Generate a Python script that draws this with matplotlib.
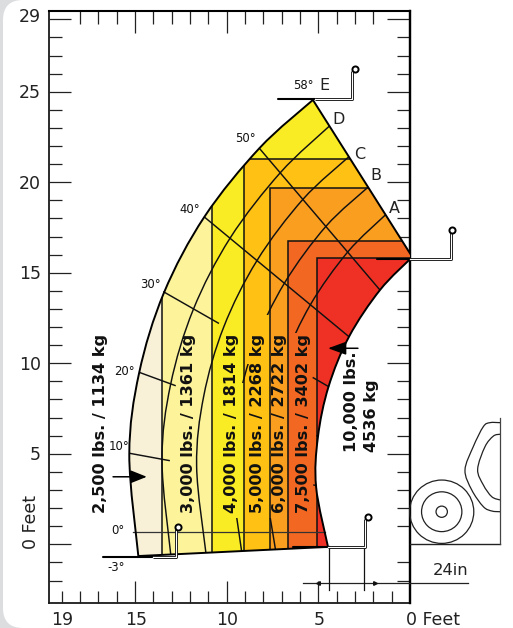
import numpy as np
import matplotlib
matplotlib.use("Agg")
import matplotlib.pyplot as plt
from matplotlib import font_manager as fm
from matplotlib.path import Path
from matplotlib.patches import PathPatch, Ellipse, FancyBboxPatch, Rectangle
from matplotlib.transforms import IdentityTransform

FIG_W, FIG_H, DPI = 513, 628, 100

# ---------- data, feet ----------
pivot = (-9.70, 0.55)                         # boom pivot implied by the angle lines
boom_angles = [-2.8, 10, 20, 30, 40, 50, 58]  # degrees
r_outer = [24.55, 25.40, 26.05, 26.70, 27.30, 27.86, 28.30]
r_d = [22.78, 23.59, 24.22, 24.85, 25.47, 26.09, 26.60]
r_c = [20.86, 21.67, 22.30, 22.93, 23.55, 24.17, 24.60]
r_b = [18.91, 19.72, 20.35, 20.98, 21.60, 22.22, 22.62]
r_a = [17.06, 17.87, 18.50, 19.13, 19.75, 20.37, 20.82]
r_inner = [14.19, 15.05, 15.67, 16.33, 17.00, 17.63, 18.07]
arc_b_visible = [(12.67, 26), (8.90, 9.95), (-1, 1.45)]   # the arcs stop around the labels
arc_a_visible = [(11.66, 26), (-1, 1.45)]

zone_names = ["3,000 lbs. / 1361 kg", "4,000 lbs. / 1814 kg", "5,000 lbs. / 2268 kg",
              "6,000 lbs. / 2722 kg", "7,500 lbs. / 3402 kg"]
zone_label_x = [12.06, 9.75, 8.34, 7.14, 5.83]
zone_reach = [13.51, 10.80, 9.04, 7.66, 6.64, 5.09]
zone_top = [30.0, 30.0, 21.30, 19.67, 16.74, 15.80]
zone_colors = ["#FCF39A", "#FAEC24", "#FFC114", "#FA9E20", "#F26722", "#EF3125"]
base_color = "#F8F1D8"

angle_labels = ["50°", "40°", "30°", "20°", "10°", "0°", "-3°"]
angle_label_x = [9.00, 12.00, 14.16, 15.60, 15.86, 15.95, 16.04]
angle_label_y = [22.40, 18.47, 14.38, 9.54, 5.39, 0.74, -1.26]
spokes = [([15.31, 13.10], [5.03, 4.62]),
          ([14.77, 12.78], [9.50, 8.76]),
          ([13.46, 10.42], [13.96, 12.20]),
          ([5.31, 4.42], [9.22, 8.70]),
          ([5.28, 5.10], [3.28, 3.25]),
          ([5.12, 5.00], [6.00, 5.98]),
          ([11.24, 3.33], [18.10, 11.47]),
          ([8.22, 1.64], [21.88, 14.05])]
zero_line_x = [15.09, 4.65]
zero_line_y = [0.70, 0.70]

letters = ["D", "C", "B", "A", "E"]
letter_x = [3.89, 2.73, 1.85, 0.87, 4.69]
letter_y = [23.48, 21.55, 20.38, 18.55, 25.34]
top_label = "58°"
top_label_xy = (5.84, 25.34)

left_major = [29, 25, 20, 15, 10, 5, 0]
left_minor = [v for v in range(-2, 29) if v not in left_major]
right_major = [29, 25, 20, 10, 5]
right_minor = [v for v in range(-2, 29) if v not in right_major and v not in (15, 0)]
top_major = [15, 10, 5]
top_minor = [v for v in range(2, 19) if v not in top_major]
bottom_major = [15, 10, 5]
bottom_minor = [v for v in range(1, 20) if v not in bottom_major]
ylabels = ["29", "25", "20", "15", "10", "5"]
ylabel_vals = [29, 25, 20, 15, 10, 5]
xlabels = ["19", "15", "10", "5"]
xlabel_vals = [19, 15, 10, 5]

# leaders: tapered start, where the double line opens, elbow, ring
leader_start_x = [7.22, 1.81, 16.77, 6.37]
leader_y = [24.58, 15.75, -0.68, -0.17]
leader_open_x = [5.18, 0.00, 14.00, 4.47]
leader_elbow_x = [3.16, -2.21, 12.77, 2.43]
leader_ring_x = [3.00, -2.29, 12.66, 2.29]
leader_ring_y = [26.27, 17.35, 0.95, 1.50]

dim_label = "24in"
dim_x = [5.82, -3.18]
dim_y = [-2.12, -2.12]
dim_ticks_x = [4.44, 2.49]
dim_ticks_top = [-0.10, -0.16]
dim_ticks_bottom = [-2.52, -2.52]

wheel_center = (-1.73, 1.80)
wheel_radii = [1.75, 1.10, 0.31]
cab_outer_x = [-4.91, -4.36, -4.00, -3.45, -3.00, -3.37, -4.00, -4.46, -4.91]
cab_outer_y = [6.72, 6.72, 6.50, 5.39, 4.10, 3.00, 2.08, 1.84, 1.80]
cab_inner_x = [-4.91, -4.55, -4.09, -3.69, -4.00, -4.46, -4.91]
cab_inner_y = [6.08, 5.98, 5.39, 4.14, 3.28, 2.63, 2.45]
ground_x = [0.0, -4.91]
ground_y = [0.0, 0.0]
cab_edge_x = [-4.91, -4.91]
cab_edge_y = [0.0, 7.0]


# ---------- helpers ----------
def from_boom(radii):
    th = np.radians(boom_angles)
    r = np.asarray(radii)
    return pivot[0] + r * np.cos(th), pivot[1] + r * np.sin(th)


def smooth_verts(xs, ys):
    """Bezier control points through the read points (Catmull-Rom tangents)."""
    p = np.column_stack([xs, ys]).astype(float)
    verts, codes = [p[0]], [Path.MOVETO]
    n = len(p)
    for i in range(n - 1):
        p0 = p[max(i - 1, 0)]; p1 = p[i]; p2 = p[i + 1]; p3 = p[min(i + 2, n - 1)]
        verts += [p1 + (p2 - p0) / 6, p2 - (p3 - p1) / 6, p2]
        codes += [Path.CURVE4] * 3
    return verts, codes


def curve(ax, xs, ys, lw=1.05, color="#111111", z=5, clip=None, clip_on=True):
    v, c = smooth_verts(xs, ys)
    pp = PathPatch(Path(v, c), fc="none", ec=color, lw=lw, zorder=z, capstyle="butt", clip_on=clip_on)
    ax.add_patch(pp)
    if clip is not None:
        pp.set_clip_path(clip)
    return pp


# ---------- figure ----------
fig = plt.figure(figsize=(FIG_W / DPI, FIG_H / DPI), dpi=DPI, facecolor="#DCDDDF")
bg = FancyBboxPatch((3, 0), 700, FIG_H, boxstyle="round,pad=0,rounding_size=20",
                    transform=IdentityTransform(), fc="white", ec="none")
fig.add_artist(bg)

L, R, T, B = 49.3, 410.0, 10.7, 603.3
ax = fig.add_axes([L / FIG_W, 1 - B / FIG_H, (R - L) / FIG_W, (B - T) / FIG_H])
ax.patch.set_alpha(0)
ax.set_xlim((R - L) / 18.33, 0)
ax.set_ylim((544.3 - B) / 18.1, (544.3 - T) / 18.1)

# envelope
ox, oy = from_boom(r_outer)
ix, iy = from_boom(r_inner)
ov, oc = smooth_verts(ox, oy)
iv, ic = smooth_verts(ix[::-1], iy[::-1])
env_path = Path(ov + iv + [ov[0]], oc + [Path.LINETO] + ic[1:] + [Path.CLOSEPOLY])
env = PathPatch(env_path, fc=base_color, ec="none", zorder=2)
ax.add_patch(env)

for reach, top, col in zip(zone_reach, zone_top, zone_colors):
    r = Rectangle((reach, -5), -(reach + 2), top + 5, fc=col, ec="#111111", lw=1.1, zorder=3)
    ax.add_patch(r)
    r.set_clip_path(env)

zl, = ax.plot(zero_line_x, zero_line_y, color="#333333", lw=0.9, zorder=4)

for radii in (r_d, r_c):
    curve(ax, *from_boom(radii))
for radii, spans in ((r_b, arc_b_visible), (r_a, arc_a_visible)):
    for lo, hi in spans:
        clip = Rectangle((30, lo), -40, hi - lo, transform=ax.transData)
        curve(ax, *from_boom(radii), clip=clip)
for xs, ys in spokes:
    ax.plot(xs, ys, color="#111111", lw=1.05, zorder=5, solid_capstyle="butt")

ax.add_patch(PathPatch(env_path, fc="none", ec="black", lw=1.4, zorder=6))

# ticks
TICK = "#222222"
for s in ax.spines.values():
    s.set_linewidth(1.3)
    s.set_color("#1a1a1a")
    s.set_zorder(1)
ax.spines["right"].set_linewidth(1.6)
ax.set_xticks(bottom_major); ax.set_xticks(bottom_minor, minor=True)
ax.set_yticks(left_major); ax.set_yticks(left_minor, minor=True)
ax.tick_params(which="major", direction="in", length=22 * .72, width=0.9, color=TICK,
               labelbottom=False, labelleft=False)
ax.tick_params(which="minor", direction="in", length=12.5 * .72, width=0.9, color=TICK)
for a in (ax.xaxis, ax.yaxis):
    for t in a.get_ticklines() + a.get_minorticklines():
        t.set_zorder(1)
sec_top = ax.secondary_xaxis("top")
sec_top.set_xticks(top_major); sec_top.set_xticks(top_minor, minor=True)
sec_top.tick_params(which="major", direction="in", length=22 * .72, width=0.9, color=TICK, labeltop=False)
sec_top.tick_params(which="minor", direction="in", length=12.5 * .72, width=0.9, color=TICK)
sec_top.spines["top"].set_linewidth(1.5)
sec_right = ax.secondary_yaxis("right")
sec_right.set_yticks(right_major); sec_right.set_yticks(right_minor, minor=True)
sec_right.tick_params(which="major", direction="in", length=23 * .72, width=0.9, color=TICK, labelright=False)
sec_right.tick_params(which="minor", direction="in", length=13 * .72, width=0.9, color=TICK)
sec_right.spines["right"].set_linewidth(1.6)
sec_top.set_zorder(1); sec_right.set_zorder(1)
ax.set_zorder(2)

# tick labels
TXT = "#222222"
for lab, v in zip(ylabels, ylabel_vals):
    ax.text(19.67 + 8.6 / 18.33, v - 0.07 if v != 29 else v + 0.12, lab, ha="right", va="center",
            fontsize=12.5, color=TXT, clip_on=False)
ax.text(19.67 + 18.6 / 18.33, -0.26, "0 Feet", rotation=90, ha="center", va="bottom",
        fontsize=12.5, color=TXT, clip_on=False)
for lab, v in zip(xlabels, xlabel_vals):
    ax.text(v - 0.05, -4.19, lab, ha="center", va="center", fontsize=12.5, color=TXT, clip_on=False)
ax.text(0.22, -4.19, "0 Feet", ha="left", va="center", fontsize=12.5, color=TXT, clip_on=False)

# bold zone labels
BOLD = dict(rotation=90, ha="center", va="bottom", fontweight="bold", fontsize=11.6, color="#111111", zorder=8)
ax.text(16.87, 1.73, "2,500 lbs. / 1134 kg", clip_on=False, **BOLD)
for name, x in zip(zone_names, zone_label_x):
    ax.text(x, 1.73, name, **BOLD)
ax.text(3.18, 5.1, "10,000 lbs.", **BOLD)
ax.text(2.12, 5.1, "4536 kg", **BOLD)

# angle + letter labels
names = {f.name for f in fm.fontManager.ttflist}
NARROW = dict(family="Liberation Sans Narrow", fontsize=10.5) if "Liberation Sans Narrow" in names \
    else dict(family="DejaVu Sans", fontsize=8.4)
for lab, x, y in zip(angle_labels, angle_label_x, angle_label_y):
    ax.text(x, y, lab, ha="center", va="center", color="#111111", clip_on=False, **NARROW)
ax.text(*top_label_xy, top_label, ha="center", va="center", color="#111111", **NARROW)
for lab, x, y in zip(letters, letter_x, letter_y):
    ax.text(x, y, lab, ha="center", va="center", fontsize=11.5, color="#222222", zorder=7)

# leaders
for sx, ly, wx, ex, rx, ry in zip(leader_start_x, leader_y, leader_open_x, leader_elbow_x,
                                  leader_ring_x, leader_ring_y):
    ax.plot([sx, wx], [ly, ly], color="black", lw=1.5, zorder=9, clip_on=False, solid_capstyle="round")
    ax.plot([wx, ex, ex], [ly, ly, ry - 0.1], color="black", lw=2.1, zorder=9, clip_on=False,
            solid_joinstyle="round", solid_capstyle="butt")
    ax.plot([wx, ex, ex], [ly, ly, ry - 0.1], color="white", lw=0.9, zorder=10, clip_on=False,
            solid_joinstyle="round")
    ax.plot([rx], [ry], marker="o", ms=4.4, mfc="white", mec="black", mew=1.4, zorder=11, clip_on=False)

# arrows
ax.annotate("", xy=(14.36, 3.73), xytext=(16.2, 3.73), zorder=9,
            arrowprops=dict(arrowstyle="-|>,head_length=0.5,head_width=0.2", color="black", lw=1.1,
                            mutation_scale=20, shrinkA=0, shrinkB=0))
ax.annotate("", xy=(4.47, 10.83), xytext=(2.84, 10.83), zorder=9,
            arrowprops=dict(arrowstyle="-|>,head_length=0.55,head_width=0.2", color="black", lw=1.1,
                            mutation_scale=20, shrinkA=0, shrinkB=0))

# dimension
ax.plot(dim_x, dim_y, color="#222222", lw=0.9, zorder=6, clip_on=False)
for x, t, b in zip(dim_ticks_x, dim_ticks_top, dim_ticks_bottom):
    ax.plot([x, x], [t, b], color="#111111", lw=0.9, zorder=6)
ax.plot([5.0], [-2.12], marker="<", ms=2.6, color="#111111", zorder=7)
ax.plot([1.9], [-2.12], marker=">", ms=2.6, color="#111111", zorder=7)
ax.text(-2.19, -1.45, dim_label, ha="center", va="center", fontsize=11.8, color=TXT, clip_on=False)

# machine
for r in wheel_radii:
    ax.add_patch(Ellipse(wheel_center, 2 * r, 2 * r, fc="none", ec="#222222", lw=0.9, clip_on=False, zorder=4))
ax.plot(ground_x, ground_y, color="#222222", lw=1.0, clip_on=False, zorder=4)
ax.plot(cab_edge_x, cab_edge_y, color="#444444", lw=0.9, clip_on=False, zorder=4)
curve(ax, cab_outer_x, cab_outer_y, lw=0.9, color="#222222", clip_on=False)
curve(ax, cab_inner_x, cab_inner_y, lw=0.9, color="#222222", clip_on=False)

fig.savefig("out.png", dpi=DPI, facecolor=fig.get_facecolor())
